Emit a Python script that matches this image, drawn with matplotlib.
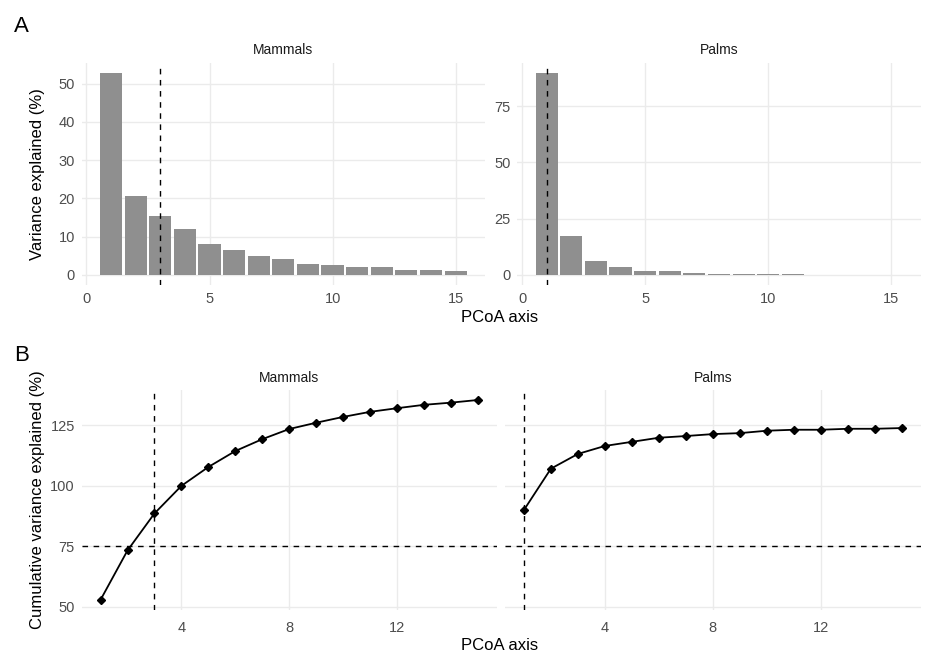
import matplotlib
matplotlib.use("Agg")
import matplotlib.pyplot as plt
import numpy as np

plt.rcParams['font.family'] = ['Liberation Sans', 'DejaVu Sans']

# PCoA axes 1..15
axis_no = np.arange(1, 16)

# variance explained per axis (%)
mammals_var = [52.8, 20.6, 15.4, 12.0, 8.0, 6.5, 5.0, 4.2, 2.8, 2.5, 2.0, 2.0, 1.3, 1.3, 1.0]
palms_var = [89.8, 17.2, 6.0, 3.3, 1.6, 1.6, 1.0, 0.6, 0.6, 0.6, 0.6, 0.1, 0.1, 0.1, 0.1]

# cumulative variance explained (%)
mammals_cum = [52.9, 73.3, 88.6, 100.0, 107.8, 114.4, 119.3, 123.5, 126.1, 128.5, 130.6, 132.1, 133.5, 134.4, 135.5]
palms_cum = [90.0, 107.1, 113.2, 116.5, 118.2, 119.9, 120.6, 121.4, 121.8, 122.8, 123.2, 123.2, 123.6, 123.6, 123.9]

# chosen number of axes (dashed lines)
mammals_cut = 3
palms_cut = 1
threshold = 75

W, H = 937, 669
fig = plt.figure(figsize=(W / 100, H / 100), dpi=100)

def px_axes(x0, y0, x1, y1):
    # pixel box (top-left origin) -> figure axes
    return fig.add_axes([x0 / W, (H - y1) / H, (x1 - x0) / W, (y1 - y0) / H])

grid_col = '#EBEBEB'
tick_col = '#4D4D4D'

def style(ax):
    for s in ax.spines.values():
        s.set_visible(False)
    ax.grid(True, color=grid_col, linewidth=1.0)
    ax.set_axisbelow(True)
    ax.tick_params(length=0, labelsize=10.5, labelcolor=tick_col, pad=5)

# ---- Panel A: bars
axA1 = px_axes(81.7, 62.7, 485, 285)
axA2 = px_axes(517.3, 62.7, 920.7, 285)
for ax, vals, cut, name, ticks in [(axA1, mammals_var, mammals_cut, 'Mammals', [0, 10, 20, 30, 40, 50]),
                                   (axA2, palms_var, palms_cut, 'Palms', [0, 25, 50, 75])]:
    style(ax)
    ax.bar(axis_no, vals, width=0.9, color='#8F8F8F', zorder=2)
    ax.axvline(cut, color='black', linestyle=(0, (4, 4)), linewidth=1.0, zorder=3)
    ax.set_xlim(-0.195, 16.195)
    top = max(vals)
    ax.set_ylim(-0.05 * top, 1.05 * top)
    ax.set_xticks([0, 5, 10, 15])
    ax.set_yticks(ticks)
    ax.set_title(name, fontsize=10, color='#1A1A1A', pad=6)

# ---- Panel B: cumulative lines
axB1 = px_axes(81.7, 390, 496.7, 609.8)
axB2 = px_axes(505, 390, 920.7, 609.8)
lo = min(min(mammals_cum), min(palms_cum), threshold)
hi = max(max(mammals_cum), max(palms_cum))
span = hi - lo
for ax, vals, cut, name in [(axB1, mammals_cum, mammals_cut, 'Mammals'),
                            (axB2, palms_cum, palms_cut, 'Palms')]:
    style(ax)
    ax.plot(axis_no, vals, color='black', linewidth=1.3, marker='D', markersize=3.8, zorder=3)
    ax.axvline(cut, color='black', linestyle=(0, (4, 4)), linewidth=1.0, zorder=2)
    ax.axhline(threshold, color='black', linestyle=(0, (4, 4)), linewidth=1.0, zorder=2)
    ax.set_xlim(0.3, 15.7)
    ax.set_ylim(lo - 0.05 * span, hi + 0.05 * span)
    ax.set_xticks([4, 8, 12])
    ax.set_yticks([50, 75, 100, 125])
    ax.set_title(name, fontsize=10, color='#1A1A1A', pad=6)
    ax.tick_params(axis='x', pad=8)
axB2.tick_params(labelleft=False)

# labels
fig.text(38 / W, 1 - 174 / H, 'Variance explained (%)', rotation=90, ha='center', va='center', fontsize=12)
fig.text(38 / W, 1 - 500 / H, 'Cumulative variance explained (%)', rotation=90, ha='center', va='center', fontsize=12)
fig.text(500 / W, 1 - 318 / H, 'PCoA axis', ha='center', va='center', fontsize=12)
fig.text(500 / W, 1 - 645 / H, 'PCoA axis', ha='center', va='center', fontsize=12)
fig.text(14 / W, 1 - 27 / H, 'A', ha='left', va='center', fontsize=16)
fig.text(14 / W, 1 - 355 / H, 'B', ha='left', va='center', fontsize=16)

fig.savefig('out.png', dpi=100)
